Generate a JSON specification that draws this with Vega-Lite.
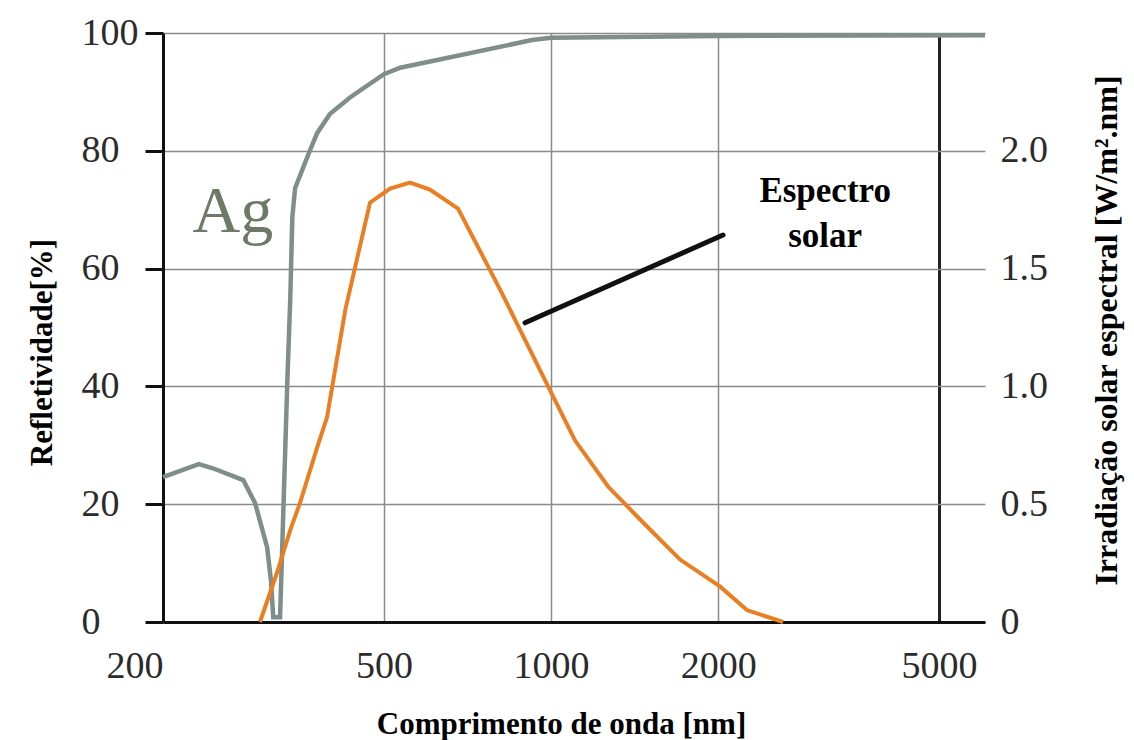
{
  "$schema": "https://vega.github.io/schema/vega-lite/v6.json",
  "width": 822,
  "height": 589,
  "autosize": {"type": "none"},
  "padding": {"left": 163, "top": 33, "right": 149, "bottom": 118},
  "background": "white",
  "config": {
    "view": {"stroke": null},
    "axis": {"labelFont": "Liberation Serif", "titleFont": "Liberation Serif", "labelColor": "#2b2b2b", "titleColor": "#000000"}
  },
  "datasets": {
    "ag": [
      {"nm": 200, "refletividade": 24.6},
      {"nm": 232, "refletividade": 26.8},
      {"nm": 246, "refletividade": 26.1},
      {"nm": 279, "refletividade": 24.1},
      {"nm": 293, "refletividade": 20.2},
      {"nm": 308, "refletividade": 12.7},
      {"nm": 313, "refletividade": 7.0},
      {"nm": 316, "refletividade": 0.8},
      {"nm": 325, "refletividade": 0.8},
      {"nm": 335, "refletividade": 41},
      {"nm": 339, "refletividade": 54.7},
      {"nm": 342, "refletividade": 68.8},
      {"nm": 346, "refletividade": 73.7},
      {"nm": 368, "refletividade": 80.1},
      {"nm": 379, "refletividade": 83.0},
      {"nm": 400, "refletividade": 86.3},
      {"nm": 435, "refletividade": 89.1},
      {"nm": 500, "refletividade": 93.0},
      {"nm": 535, "refletividade": 94.1},
      {"nm": 924, "refletividade": 98.8},
      {"nm": 1000, "refletividade": 99.2},
      {"nm": 2000, "refletividade": 99.5},
      {"nm": 6050, "refletividade": 99.6}
    ],
    "solar": [
      {"nm": 299, "irradiacao": 0},
      {"nm": 321, "irradiacao": 0.21},
      {"nm": 339, "irradiacao": 0.39},
      {"nm": 353, "irradiacao": 0.505},
      {"nm": 379, "irradiacao": 0.74},
      {"nm": 395, "irradiacao": 0.87},
      {"nm": 426, "irradiacao": 1.325},
      {"nm": 472, "irradiacao": 1.78},
      {"nm": 513, "irradiacao": 1.84},
      {"nm": 557, "irradiacao": 1.865},
      {"nm": 605, "irradiacao": 1.835},
      {"nm": 680, "irradiacao": 1.755},
      {"nm": 810, "irradiacao": 1.41},
      {"nm": 988, "irradiacao": 1.0},
      {"nm": 1105, "irradiacao": 0.77},
      {"nm": 1267, "irradiacao": 0.575},
      {"nm": 1447, "irradiacao": 0.435},
      {"nm": 1708, "irradiacao": 0.265},
      {"nm": 2017, "irradiacao": 0.15},
      {"nm": 2256, "irradiacao": 0.05},
      {"nm": 2619, "irradiacao": 0}
    ],
    "seta": [
      {"nm": 898, "refletividade": 50.8},
      {"nm": 2041, "refletividade": 65.7}
    ],
    "metal": [
      {"nm": 226, "refletividade": 66.2, "texto": "Ag"}
    ],
    "legenda": [
      {"nm": 3118, "refletividade": 71.3, "texto": "Espectro"},
      {"nm": 3118, "refletividade": 63.7, "texto": "solar"}
    ]
  },
  "layer": [
    {
      "data": {"name": "ag"},
      "mark": {"type": "line", "color": "#7f8e8a", "strokeWidth": 4.5},
      "encoding": {
        "x": {
          "field": "nm",
          "type": "quantitative",
          "scale": {"type": "log", "domain": [200, 6050], "nice": false},
          "axis": {
            "title": "Comprimento de onda [nm]",
            "values": [200, 500, 1000, 2000, 5000],
            "format": "d",
            "grid": true,
            "gridColor": {"condition": {"test": "datum.value == 5000", "value": "#222222"}, "value": "#8a8a8a"},
            "gridWidth": {"condition": {"test": "datum.value == 5000", "value": 3}, "value": 1.5},
            "ticks": false,
            "tickSize": 0,
            "domainColor": "#111111",
            "domainWidth": 3,
            "labelFontSize": 38,
            "labelBaseline": "alphabetic",
            "labelPadding": 55,
            "labelAlign": {"condition": {"test": "datum.value == 200", "value": "right"}, "value": "center"},
            "labelFlush": false,
            "labelOverlap": false,
            "titleFontSize": 31,
            "titleFontWeight": "bold",
            "titleX": 398,
            "titleY": 111,
            "titleAlign": "center",
            "titleBaseline": "alphabetic"
          }
        },
        "y": {
          "field": "refletividade",
          "type": "quantitative",
          "scale": {"domain": [0, 100], "nice": false},
          "axis": {
            "title": "Refletividade[%]",
            "values": [0, 20, 40, 60, 80, 100],
            "grid": true,
            "gridColor": "#8a8a8a",
            "gridWidth": 1.5,
            "domainColor": "#111111",
            "domainWidth": 3,
            "tickColor": "#111111",
            "tickWidth": 3,
            "tickSize": 18,
            "labelAlign": "left",
            "labelPadding": 64,
            "labelBaseline": "middle",
            "labelFontSize": 38,
            "titleFontSize": 31,
            "titleFontWeight": "bold",
            "titleAngle": -90,
            "titleX": -121,
            "titleY": 319,
            "titleAlign": "center",
            "titleBaseline": "middle"
          }
        }
      }
    },
    {
      "data": {"name": "seta"},
      "mark": {"type": "line", "color": "#111111", "strokeWidth": 5, "strokeCap": "round"},
      "encoding": {
        "x": {"field": "nm", "type": "quantitative", "scale": {"type": "log", "domain": [200, 6050], "nice": false}},
        "y": {"field": "refletividade", "type": "quantitative", "scale": {"domain": [0, 100], "nice": false}, "axis": null}
      }
    },
    {
      "data": {"name": "metal"},
      "mark": {"type": "text", "font": "Liberation Serif", "fontSize": 66, "color": "#6c7a66", "align": "left", "baseline": "alphabetic"},
      "encoding": {
        "x": {"field": "nm", "type": "quantitative", "scale": {"type": "log", "domain": [200, 6050], "nice": false}},
        "y": {"field": "refletividade", "type": "quantitative", "scale": {"domain": [0, 100], "nice": false}, "axis": null},
        "text": {"field": "texto"}
      }
    },
    {
      "data": {"name": "legenda"},
      "mark": {"type": "text", "font": "Liberation Serif", "fontSize": 35, "fontWeight": "bold", "color": "#000000", "align": "center", "baseline": "alphabetic"},
      "encoding": {
        "x": {"field": "nm", "type": "quantitative", "scale": {"type": "log", "domain": [200, 6050], "nice": false}},
        "y": {"field": "refletividade", "type": "quantitative", "scale": {"domain": [0, 100], "nice": false}, "axis": null},
        "text": {"field": "texto"}
      }
    },
    {
      "data": {"name": "solar"},
      "mark": {"type": "line", "color": "#e97f22", "strokeWidth": 4},
      "encoding": {
        "x": {"field": "nm", "type": "quantitative", "scale": {"type": "log", "domain": [200, 6050], "nice": false}},
        "y": {
          "field": "irradiacao",
          "type": "quantitative",
          "scale": {"domain": [0, 2.5], "nice": false},
          "axis": {
            "orient": "right",
            "title": "Irradiação solar espectral [W/m².nm]",
            "values": [0, 0.5, 1, 1.5, 2],
            "labelExpr": "datum.value == 0 ? '0' : format(datum.value, '.1f')",
            "grid": false,
            "domain": false,
            "ticks": false,
            "tickSize": 0,
            "labelPadding": 15,
            "labelAlign": "left",
            "labelBaseline": "middle",
            "labelFontSize": 38,
            "titleFontSize": 32,
            "titleFontWeight": "bold",
            "titleAngle": -90,
            "titleX": 121,
            "titleY": 297,
            "titleAlign": "center",
            "titleBaseline": "middle"
          }
        }
      }
    }
  ],
  "resolve": {"scale": {"y": "independent"}}
}
